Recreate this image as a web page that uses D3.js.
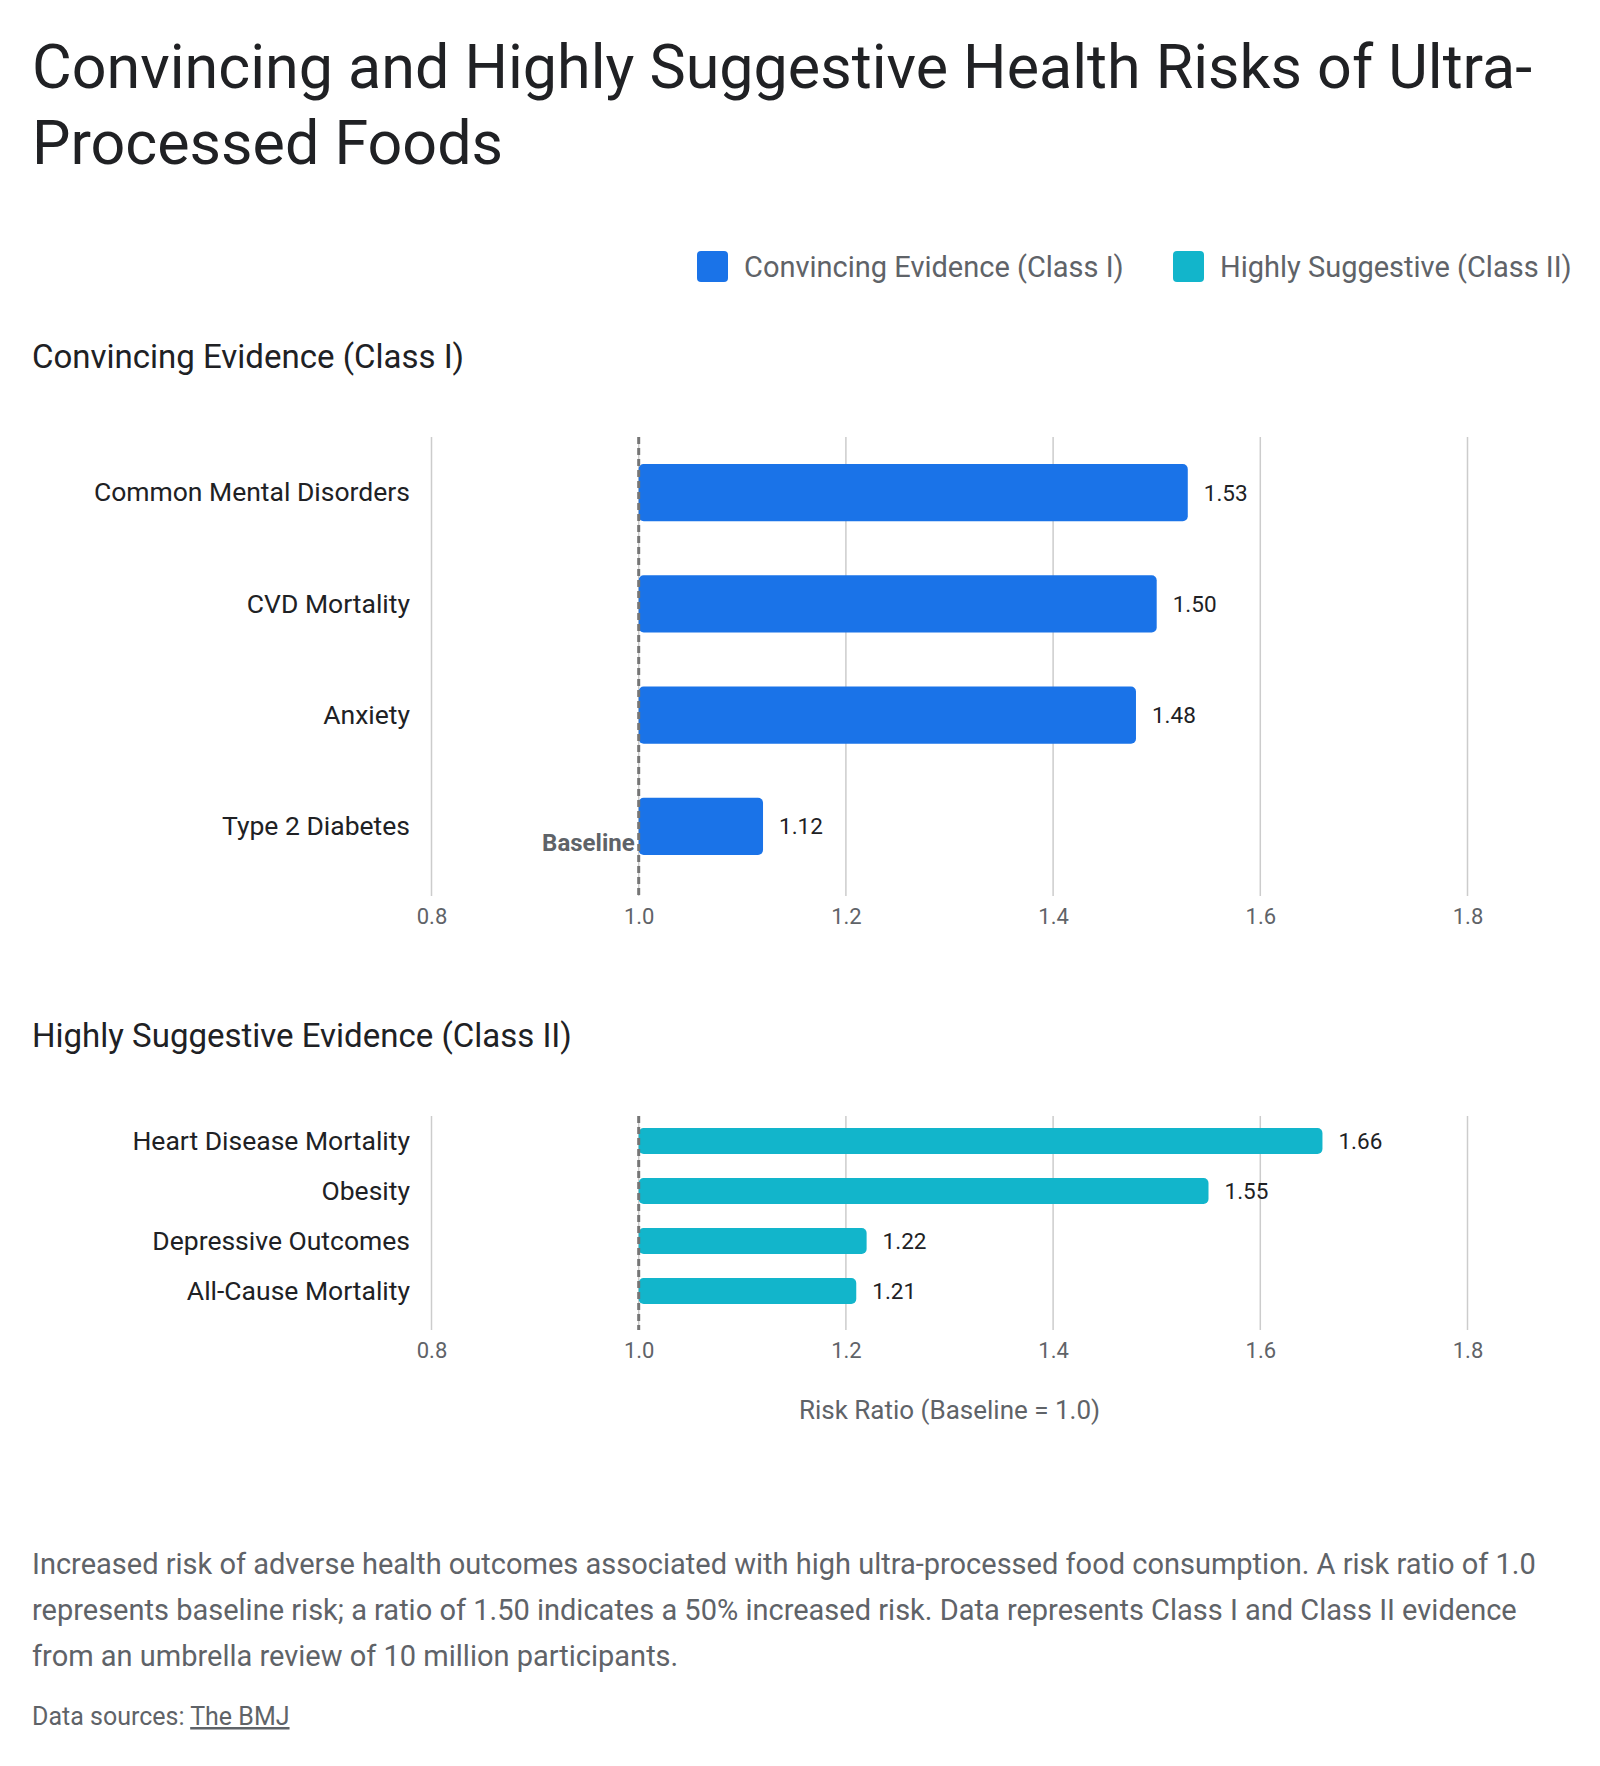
<!DOCTYPE html>
<html>
<head>
<meta charset="utf-8">
<script src="https://cdn.jsdelivr.net/npm/d3@7"></script>
<style>
  html, body { margin: 0; padding: 0; background: #fff; }
  svg { display: block; font-family: Roboto, "Noto Sans", sans-serif; }
</style>
</head>
<body>
<svg id="chart" width="1600" height="1766"></svg>
<script>
// ---- data ----
const titleLines = ["Convincing and Highly Suggestive Health Risks of Ultra-", "Processed Foods"];
const legendLabels = ["Convincing Evidence (Class I)", "Highly Suggestive (Class II)"];
const legendColors = ["#1a73e8", "#12b5cb"];

const class1Title = "Convincing Evidence (Class I)";
const class1Labels = ["Common Mental Disorders", "CVD Mortality", "Anxiety", "Type 2 Diabetes"];
const class1Values = [1.53, 1.50, 1.48, 1.12];

const class2Title = "Highly Suggestive Evidence (Class II)";
const class2Labels = ["Heart Disease Mortality", "Obesity", "Depressive Outcomes", "All-Cause Mortality"];
const class2Values = [1.66, 1.55, 1.22, 1.21];

const xTicks = [0.8, 1.0, 1.2, 1.4, 1.6, 1.8];
const xTitle = "Risk Ratio (Baseline = 1.0)";
const baselineValue = 1.0;

const captionLines = [
  "Increased risk of adverse health outcomes associated with high ultra-processed food consumption. A risk ratio of 1.0",
  "represents baseline risk; a ratio of 1.50 indicates a 50% increased risk. Data represents Class I and Class II evidence",
  "from an umbrella review of 10 million participants."
];
const sourceLabel = "Data sources: ";
const sourceLink = "The BMJ";

// ---- layout ----
const svg = d3.select("#chart");
const INK = "#202124", GREY = "#5f6368";

const x = d3.scaleLinear().domain([0.8, 1.8]).range([431.5, 1467.5]);

// title
svg.append("g").selectAll("text").data(titleLines).join("text")
  .attr("x", 32).attr("y", (d, i) => 88 + i * 76)
  .attr("font-size", 61).attr("fill", INK)
  .text(d => d);

// legend
const legendX = [697, 1173];
const leg = svg.append("g").selectAll("g").data(legendLabels).join("g")
  .attr("transform", (d, i) => `translate(${legendX[i]},251)`);
leg.append("rect").attr("width", 31).attr("height", 31).attr("rx", 4)
  .attr("fill", (d, i) => legendColors[i]);
leg.append("text").attr("x", 47).attr("y", 16).attr("dy", "0.35em")
  .attr("font-size", 29).attr("fill", GREY).text(d => d);

function drawPanel(opts) {
  const g = svg.append("g");
  const top = opts.top, bottom = opts.bottom;

  g.append("text").attr("x", 32).attr("y", opts.titleY)
    .attr("font-size", 33).attr("fill", INK).text(opts.title);

  const y = d3.scaleBand().domain(opts.labels)
    .range([top, bottom - 14]).paddingInner(opts.pad).paddingOuter(opts.pad / 2);

  // gridlines
  g.append("g").selectAll("line").data(xTicks).join("line")
    .attr("x1", d => x(d)).attr("x2", d => x(d))
    .attr("y1", top).attr("y2", bottom)
    .attr("stroke", "#cccccc").attr("stroke-width", 1.5);

  // tick labels
  const axis = g.append("g").attr("transform", `translate(0,${bottom})`)
    .call(d3.axisBottom(x).tickValues(xTicks).tickFormat(d3.format(".1f")).tickSize(0).tickPadding(12));
  axis.select(".domain").remove();
  axis.selectAll("text").attr("font-size", 22).attr("fill", GREY)
    .attr("font-family", "Roboto, sans-serif");

  // category labels
  g.append("g").selectAll("text").data(opts.labels).join("text")
    .attr("x", 410).attr("y", d => y(d) + y.bandwidth() / 2).attr("dy", "0.33em")
    .attr("text-anchor", "end").attr("font-size", 26.5).attr("fill", INK)
    .text(d => d);

  // bars
  const rows = opts.labels.map((l, i) => ({ label: l, value: opts.values[i] }));
  g.append("g").selectAll("rect").data(rows).join("rect")
    .attr("x", x(baselineValue)).attr("y", d => y(d.label))
    .attr("width", d => x(d.value) - x(baselineValue)).attr("height", y.bandwidth())
    .attr("rx", 5).attr("fill", opts.color);

  // value labels
  g.append("g").selectAll("text").data(rows).join("text")
    .attr("x", d => x(d.value) + 16).attr("y", d => y(d.label) + y.bandwidth() / 2).attr("dy", "0.35em")
    .attr("font-size", 22.5).attr("fill", INK)
    .text(d => d3.format(".2f")(d.value));

  // baseline marker
  g.append("line")
    .attr("x1", x(baselineValue)).attr("x2", x(baselineValue))
    .attr("y1", top).attr("y2", bottom)
    .attr("stroke", "#757575").attr("stroke-width", 3).attr("stroke-dasharray", "7,4");

  if (opts.baselineLabel) {
    const last = opts.labels[opts.labels.length - 1];
    g.append("text").attr("x", x(baselineValue) - 4)
      .attr("y", y(last) + y.bandwidth() / 2 + 16).attr("dy", "0.35em")
      .attr("text-anchor", "end").attr("font-size", 24).attr("font-weight", 700)
      .attr("fill", GREY).text("Baseline");
  }
  return g;
}

drawPanel({ title: class1Title, titleY: 368, labels: class1Labels, values: class1Values,
  color: legendColors[0], top: 437, bottom: 896, pad: 0.486, baselineLabel: true });
drawPanel({ title: class2Title, titleY: 1047, labels: class2Labels, values: class2Values,
  color: legendColors[1], top: 1116, bottom: 1330, pad: 0.48, baselineLabel: false });

// x axis title
svg.append("text").attr("x", (x.range()[0] + x.range()[1]) / 2).attr("y", 1410).attr("dy", "0.35em")
  .attr("text-anchor", "middle").attr("font-size", 26).attr("fill", GREY).text(xTitle);

// caption
svg.append("g").selectAll("text").data(captionLines).join("text")
  .attr("x", 32).attr("y", (d, i) => 1574 + i * 46)
  .attr("font-size", 29).attr("fill", GREY).text(d => d);

const src = svg.append("text").attr("x", 32).attr("y", 1725).attr("font-size", 25).attr("fill", GREY);
src.append("tspan").text(sourceLabel);
src.append("tspan").attr("text-decoration", "underline").text(sourceLink);
</script>
</body>
</html>
